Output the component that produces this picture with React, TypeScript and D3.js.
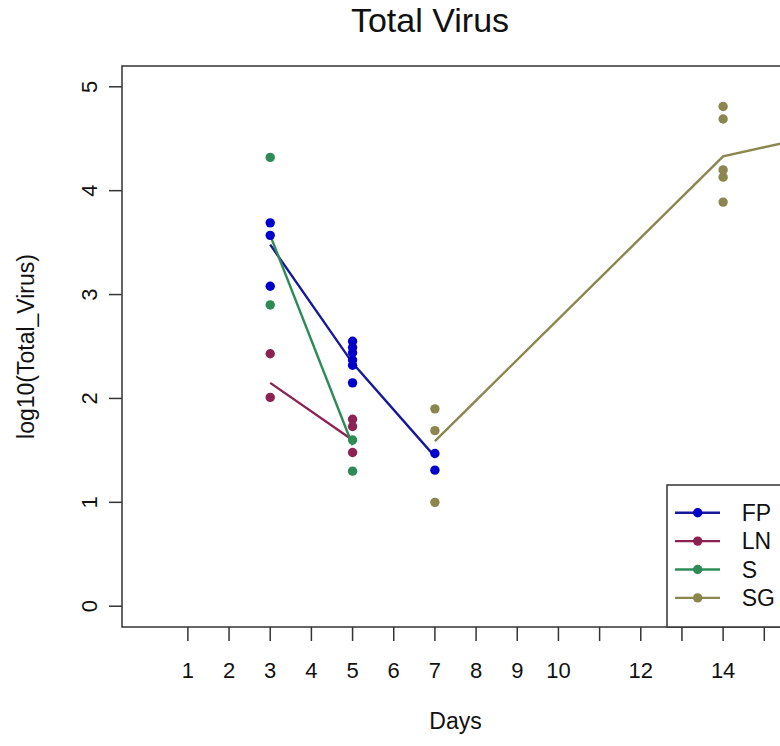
import React from "react";
import * as d3 from "d3";

// Individual measurements (log10 total virus) by tissue and day
const fpDays = [3, 3, 3, 5, 5, 5, 5, 5, 5, 7, 7];
const fpValues = [3.69, 3.57, 3.08, 2.55, 2.49, 2.44, 2.37, 2.32, 2.15, 1.47, 1.31];
const lnDays = [3, 3, 5, 5, 5];
const lnValues = [2.43, 2.01, 1.8, 1.73, 1.48];
const sDays = [3, 3, 5, 5];
const sValues = [4.32, 2.9, 1.6, 1.3];
const sgDays = [7, 7, 7, 14, 14, 14, 14, 14];
const sgValues = [1.9, 1.69, 1.0, 4.81, 4.69, 4.2, 4.13, 3.89];

// Group means connected by lines
const fpMeanDays = [3, 5, 7];
const fpMeans = [3.48, 2.34, 1.44];
const lnMeanDays = [3, 5];
const lnMeans = [2.15, 1.6];
const sMeanDays = [3, 5];
const sMeans = [3.57, 1.55];
const sgMeanDays = [7, 14, 21];
const sgMeans = [1.59, 4.33, 4.95];

const groupNames = ["FP", "LN", "S", "SG"];
const dotColors = ["#0000CD", "#8B2252", "#2E8B57", "#8B864E"];
const lineColors = ["#18189A", "#8B2252", "#2E8B57", "#8B864E"];

const xTicks = [1, 2, 3, 4, 5, 6, 7, 8, 9, 10, 11, 12, 13, 14, 15];
const xTickLabels = ["1", "2", "3", "4", "5", "6", "7", "8", "9", "10", "", "12", "", "14", ""];
const yTicks = [0, 1, 2, 3, 4, 5];

const FONT = "'Liberation Sans', Arial, Helvetica, sans-serif";

export default function App() {
  const W = 780;
  const H = 746;
  const left = 122;
  const top = 66;
  const bottom = 627;
  const right = 789;

  const x = d3.scaleLinear().domain([-0.6, 15.6]).range([left, right]);
  const y = d3.scaleLinear().domain([-0.2, 5.2]).range([bottom, top]);

  const groups = [
    { days: fpDays, values: fpValues, mDays: fpMeanDays, means: fpMeans },
    { days: lnDays, values: lnValues, mDays: lnMeanDays, means: lnMeans },
    { days: sDays, values: sValues, mDays: sMeanDays, means: sMeans },
    { days: sgDays, values: sgValues, mDays: sgMeanDays, means: sgMeans },
  ];

  const line = d3
    .line<[number, number]>()
    .x((d) => x(d[0]))
    .y((d) => y(d[1]));

  const legendLeft = 667;
  const legendTop = 485;
  const legendRowY = (i: number) => 512.7 + i * 28.4;

  return (
    <svg
      width={W}
      height={H}
      style={{ position: "absolute", left: 0, top: 0, background: "#fff" }}
      fontFamily={FONT}
    >
      <defs>
        <clipPath id="plotArea">
          <rect x={left} y={top} width={right - left} height={bottom - top} />
        </clipPath>
      </defs>
      <rect x={0} y={0} width={W} height={H} fill="#fff" />

      <text x={430} y={32} textAnchor="middle" fontSize={34} fill="#111">
        Total Virus
      </text>

      {/* mean lines */}
      <g clipPath="url(#plotArea)">
        {groups.map((g, gi) => (
          <path
            key={"l" + gi}
            d={line(g.mDays.map((d, i) => [d, g.means[i]] as [number, number])) || ""}
            fill="none"
            stroke={lineColors[gi]}
            strokeWidth={2.4}
          />
        ))}
      </g>

      {/* observations */}
      {groups.map((g, gi) =>
        g.days.map((d, i) => (
          <circle key={"p" + gi + "-" + i} cx={x(d)} cy={y(g.values[i])} r={4.7} fill={dotColors[gi]} />
        ))
      )}

      {/* frame */}
      <rect x={left} y={top} width={right - left} height={bottom - top} fill="none" stroke="#333" strokeWidth={1.5} />

      {/* x axis */}
      {xTicks.map((t, i) => (
        <g key={"xt" + t}>
          <line x1={x(t)} x2={x(t)} y1={bottom} y2={641} stroke="#333" strokeWidth={1.5} />
          {xTickLabels[i] && (
            <text x={x(t)} y={678} textAnchor="middle" fontSize={22} fill="#111">
              {xTickLabels[i]}
            </text>
          )}
        </g>
      ))}
      <text x={(left + right) / 2} y={729} textAnchor="middle" fontSize={23} fill="#111">
        Days
      </text>

      {/* y axis */}
      {yTicks.map((t) => (
        <g key={"yt" + t}>
          <line x1={109} x2={left} y1={y(t)} y2={y(t)} stroke="#333" strokeWidth={1.5} />
          <text
            transform={`translate(97,${y(t)}) rotate(-90)`}
            textAnchor="middle"
            fontSize={22}
            fill="#111"
          >
            {t}
          </text>
        </g>
      ))}
      <text
        transform={`translate(34,${(top + bottom) / 2}) rotate(-90)`}
        textAnchor="middle"
        fontSize={23}
        fill="#111"
      >
        log10(Total_Virus)
      </text>

      {/* legend */}
      <rect
        x={legendLeft}
        y={legendTop}
        width={right - legendLeft}
        height={bottom - legendTop}
        fill="#fff"
        stroke="#333"
        strokeWidth={1.5}
      />
      {groupNames.map((name, i) => (
        <g key={"lg" + name}>
          <line x1={675} x2={720} y1={legendRowY(i)} y2={legendRowY(i)} stroke={lineColors[i]} strokeWidth={2.4} />
          <circle cx={697.7} cy={legendRowY(i)} r={4.7} fill={dotColors[i]} />
          <text x={741.7} y={legendRowY(i) + 8.3} fontSize={23} fill="#111">
            {name}
          </text>
        </g>
      ))}
    </svg>
  );
}
